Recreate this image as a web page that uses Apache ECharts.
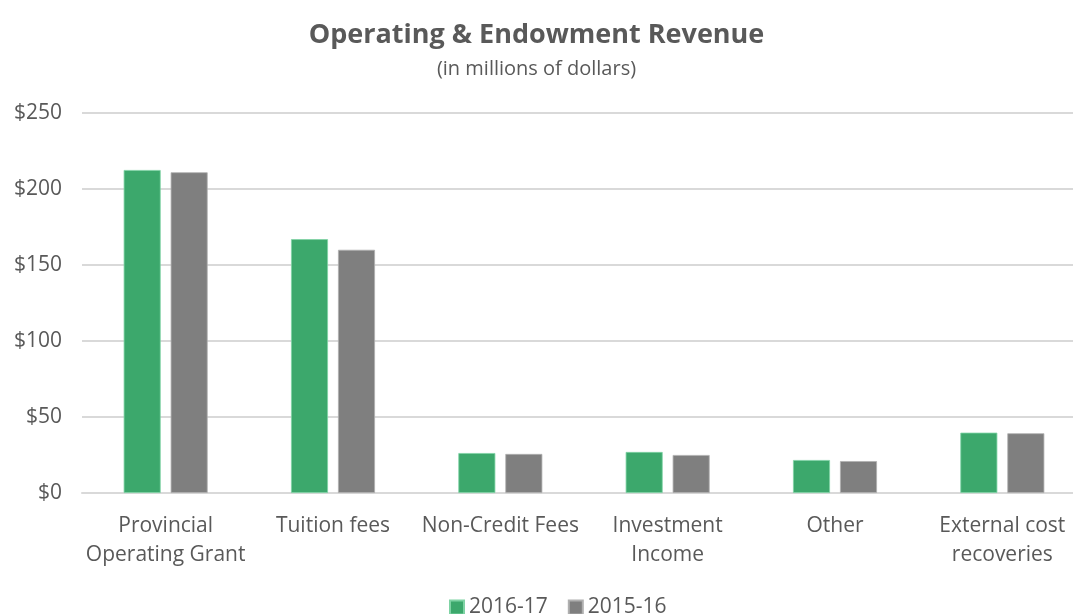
<!DOCTYPE html>
<html>
<head>
<meta charset="utf-8">
<script src="https://cdn.jsdelivr.net/npm/echarts@6/dist/echarts.min.js"></script>
<style>
  html, body { margin: 0; padding: 0; background: #fff; }
  #chart { width: 1073px; height: 614px; }
</style>
</head>
<body>
<div id="chart"></div>
<script>
const categories = ['Provincial\nOperating Grant', 'Tuition fees', 'Non-Credit Fees', 'Investment\nIncome', 'Other', 'External cost\nrecoveries'];
const rev2016 = [212.5, 167, 26.3, 27, 21.7, 39.7];
const rev2015 = [211, 160, 25.7, 25, 21, 39.3];
const yTicks = [0, 50, 100, 150, 200, 250];

const textColor = '#595959';
const font = '"Open Sans", Lato, sans-serif';

const chart = echarts.init(document.getElementById('chart'));
chart.setOption({
  animation: false,
  textStyle: { fontFamily: font },
  title: {
    text: 'Operating & Endowment Revenue',
    subtext: '(in millions of dollars)',
    left: 'center',
    top: 17,
    itemGap: 10,
    textStyle: { fontSize: 27, fontWeight: 'bold', color: textColor, fontFamily: font },
    subtextStyle: { fontSize: 20, color: textColor, fontFamily: font }
  },
  legend: {
    bottom: -9,
    left: 444,
    itemWidth: 14,
    itemHeight: 14,
    itemGap: 20,
    icon: 'rect',
    textStyle: { fontSize: 21, color: textColor },
    data: ['2016-17', '2015-16']
  },
  grid: { left: 82, width: 1004, top: 113, bottom: 121, outerBoundsMode: 'none', containLabel: false },
  xAxis: {
    type: 'category',
    data: categories,
    axisLine: { lineStyle: { color: '#d9d9d9', width: 2 } },
    axisTick: { show: false },
    axisLabel: { fontSize: 21, color: textColor, margin: 19, lineHeight: 29, interval: 0 }
  },
  yAxis: {
    type: 'value',
    min: yTicks[0],
    max: yTicks[yTicks.length - 1],
    interval: 50,
    axisLine: { show: false },
    axisTick: { show: false },
    splitLine: { lineStyle: { color: '#d9d9d9', width: 2 } },
    axisLabel: { fontSize: 21, color: textColor, margin: 20, formatter: v => '$' + v }
  },
  series: [
    {
      name: '2016-17',
      type: 'bar',
      data: rev2016,
      barWidth: 37,
      barGap: '27%',
      itemStyle: { color: '#3ca86c', borderColor: '#7fd3a4', borderWidth: 0.8 }
    },
    {
      name: '2015-16',
      type: 'bar',
      data: rev2015,
      barWidth: 37,
      itemStyle: { color: '#7f7f7f', borderColor: '#b0b0b0', borderWidth: 0.8 }
    }
  ]
});
</script>
</body>
</html>
